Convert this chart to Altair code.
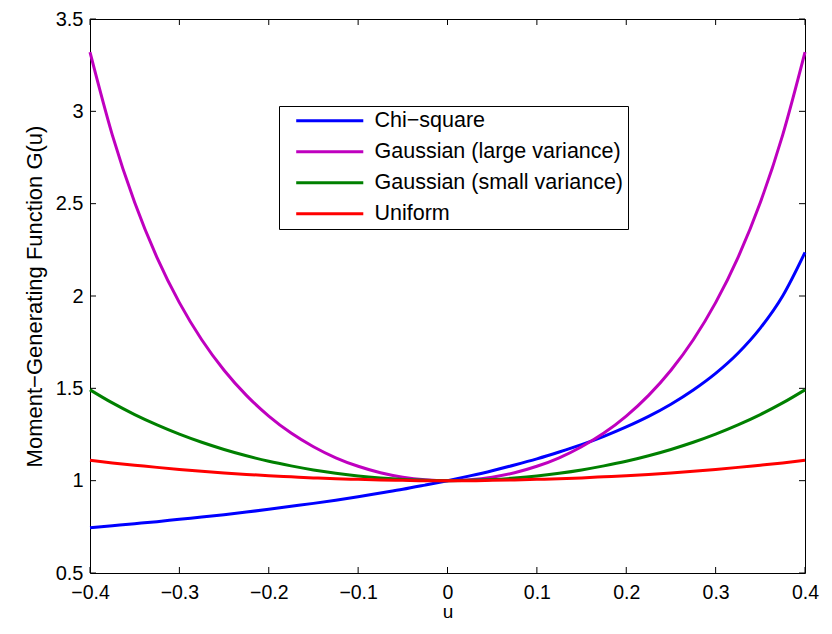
import altair as alt
import pandas as pd

# ---- data ----
u_vals = [-0.400, -0.375, -0.350, -0.325, -0.300, -0.275, -0.250, -0.225, -0.200,
          -0.175, -0.150, -0.125, -0.100, -0.075, -0.050, -0.025, 0.000,
          0.025, 0.050, 0.075, 0.100, 0.125, 0.150, 0.175, 0.200,
          0.225, 0.250, 0.275, 0.300, 0.325, 0.350, 0.375, 0.400]
chi_square = [0.745, 0.756, 0.767, 0.778, 0.791, 0.803, 0.816, 0.830, 0.845,
              0.861, 0.877, 0.894, 0.913, 0.933, 0.953, 0.976, 1.000,
              1.026, 1.054, 1.085, 1.118, 1.155, 1.195, 1.240, 1.291,
              1.348, 1.414, 1.491, 1.581, 1.690, 1.826, 2.000, 2.236]
gauss_large = [3.320, 2.871, 2.506, 2.208, 1.964, 1.763, 1.598, 1.462, 1.350,
               1.258, 1.184, 1.124, 1.078, 1.043, 1.019, 1.005, 1.000,
               1.005, 1.019, 1.043, 1.078, 1.124, 1.184, 1.258, 1.350,
               1.462, 1.598, 1.763, 1.964, 2.208, 2.506, 2.871, 3.320]
gauss_small = [1.492, 1.421, 1.358, 1.302, 1.252, 1.208, 1.169, 1.135, 1.105,
               1.080, 1.058, 1.040, 1.025, 1.014, 1.006, 1.002, 1.000,
               1.002, 1.006, 1.014, 1.025, 1.040, 1.058, 1.080, 1.105,
               1.135, 1.169, 1.208, 1.252, 1.302, 1.358, 1.421, 1.492]
uniform = [1.110, 1.096, 1.084, 1.072, 1.061, 1.051, 1.042, 1.034, 1.027,
           1.021, 1.015, 1.010, 1.007, 1.004, 1.002, 1.000, 1.000,
           1.000, 1.002, 1.004, 1.007, 1.010, 1.015, 1.021, 1.027,
           1.034, 1.042, 1.051, 1.061, 1.072, 1.084, 1.096, 1.110]

series_names = ["Chi\u2212square", "Gaussian (large variance)",
                "Gaussian (small variance)", "Uniform"]
series_colors = ["#0000ff", "#bf00bf", "#008000", "#ff0000"]

x_ticks = [-0.4, -0.3, -0.2, -0.1, 0.0, 0.1, 0.2, 0.3, 0.4]
y_ticks = [0.5, 1.0, 1.5, 2.0, 2.5, 3.0, 3.5]

rows = []
for name, vals in zip(series_names, [chi_square, gauss_large, gauss_small, uniform]):
    for uu, g in zip(u_vals, vals):
        rows.append({"u": uu, "G": g, "series": name})
df = pd.DataFrame(rows)
xt = pd.DataFrame({"u": x_ticks})
yt = pd.DataFrame({"G": y_ticks})

W, H = 715, 554
TICK = 6
FONT = "Liberation Sans"

xs = alt.Scale(domain=[-0.4, 0.4], nice=False, zero=False)
ys = alt.Scale(domain=[0.5, 3.5], nice=False, zero=False)
xa = alt.Axis(title="u", values=x_ticks, format="~g", labelPadding=10,
              labelFontSize=19.5, titlePadding=1, titleFontSize=19,
              labelFlush=False, labelOverlap=False)
ya = alt.Axis(title="Moment\u2212Generating Function G(u)", values=y_ticks,
              format="~g", labelPadding=7, titlePadding=9, titleFontSize=22,
              labelOverlap=False)

X = alt.X("u:Q", scale=xs, axis=xa)
Y = alt.Y("G:Q", scale=ys, axis=ya)

lines = alt.Chart(df).mark_line(strokeWidth=3, interpolate="monotone").encode(
    x=X, y=Y,
    color=alt.Color("series:N",
                    scale=alt.Scale(domain=series_names, range=series_colors),
                    sort=series_names,
                    legend=alt.Legend(title=None, orient="none", legendX=189, legendY=87,
                                      fillColor="white", strokeColor="black",
                                      padding=4, symbolType="M-5,0L5,0",
                                      symbolStrokeWidth=3, symbolSize=180,
                                      symbolOffset=36, labelOffset=34,
                                      labelFontSize=21.5, labelFont=FONT,
                                      labelColor="black", rowPadding=8,
                                      labelLimit=400)),
)

bottom_ticks = alt.Chart(xt).mark_rule(color="black", strokeWidth=1).encode(
    x=X, y=alt.value(H), y2=alt.value(H - TICK))
top_ticks = alt.Chart(xt).mark_rule(color="black", strokeWidth=1).encode(
    x=X, y=alt.value(0), y2=alt.value(TICK))
left_ticks = alt.Chart(yt).mark_rule(color="black", strokeWidth=1).encode(
    y=Y, x=alt.value(0), x2=alt.value(TICK))
right_ticks = alt.Chart(yt).mark_rule(color="black", strokeWidth=1).encode(
    y=Y, x=alt.value(W), x2=alt.value(W - TICK))

chart = alt.layer(bottom_ticks, top_ticks, left_ticks, right_ticks, lines).properties(
    width=W, height=H,
    autosize=alt.AutoSizeParams(type="none"),
    padding={"left": 82, "top": 11, "right": 18, "bottom": 53},
    background="white",
).configure_view(
    stroke="black", strokeWidth=1
).configure_axis(
    labelFont=FONT, labelFontSize=20, labelColor="black",
    titleFont=FONT, titleFontWeight="normal", titleColor="black",
    ticks=False, domain=False, grid=False,
)

chart.save("out.html", embed_options={"renderer": "svg", "actions": False})
